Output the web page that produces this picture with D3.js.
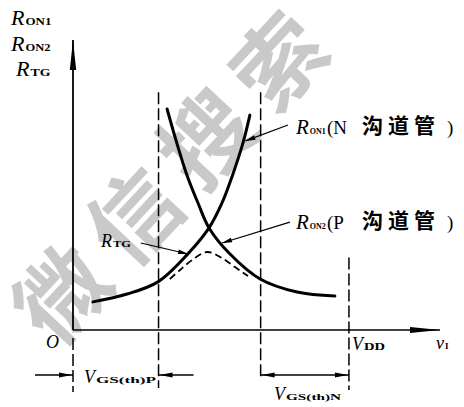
<!DOCTYPE html>
<html>
<head>
<meta charset="utf-8">
<script src="https://cdn.jsdelivr.net/npm/d3@7"></script>
<style>
  body { margin: 0; background: #fff; }
  svg { display: block; }
  .serif { font-family: "Liberation Serif", "DejaVu Serif", serif; }
  .cjk { font-family: "Noto Sans CJK SC", sans-serif; }
</style>
</head>
<body>
<script>
// Supply voltage and threshold magnitudes (same units as the v_I axis)
const VDD = 10;
const VthP = 3.1;
const VthN = 3.2;

// R_ON1 : N-channel on-resistance vs. input voltage
const ron1V = [0.72, 1.96, 3.08, 4.13, 4.93, 5.40, 5.76, 6.16, 6.41];
const ron1R = [9.7, 12.4, 16.6, 25.9, 35.2, 43.8, 52.8, 64.5, 74.1];

// R_ON2 : P-channel on-resistance vs. input voltage
const ron2V = [3.41, 3.73, 4.13, 4.53, 4.93, 5.69, 6.78, 8.12, 9.49];
const ron2R = [76.2, 65.5, 53.4, 43.8, 35.2, 26.2, 17.6, 13.1, 11.7];

// R_TG : resistance of the complete transmission gate
const rtgV = [3.51, 3.88, 4.31, 4.86, 5.40, 5.87, 6.34];
const rtgR = [17.6, 20.7, 24.1, 26.9, 24.8, 21.7, 18.6];

const W = 464, H = 407;
const svg = d3.select("body").append("svg").attr("width", W).attr("height", H);

const x = d3.scaleLinear().domain([0, 13.3]).range([73, 440]);
const y = d3.scaleLinear().domain([0, 100]).range([330, 40]);
const y0 = y(0);

// faint background watermark
svg.append("text")
  .attr("class", "cjk")
  .attr("transform", "translate(172,168) rotate(-47)")
  .attr("text-anchor", "middle")
  .attr("dominant-baseline", "central")
  .attr("font-size", 90)
  .attr("font-weight", 700)
  .attr("letter-spacing", 16)
  .attr("fill", "#c9c9c9")
  .text("微信搜索");

const ink = "#000";

// narrow filled arrowhead pointing from (x1,y1) toward (x2,y2), tip at (x2,y2)
function arrow(g, x1, y1, x2, y2, len, half) {
  const dx = x2 - x1, dy = y2 - y1, L = Math.hypot(dx, dy);
  const ux = dx / L, uy = dy / L;
  const bx = x2 - ux * len, by = y2 - uy * len;
  g.append("path")
    .attr("d", `M${x2},${y2}L${bx - uy * half},${by + ux * half}L${bx + uy * half},${by - ux * half}Z`)
    .attr("fill", ink);
}

// axes
const axes = svg.append("g");
axes.append("line").attr("x1", x(0)).attr("x2", x(0)).attr("y1", y(100)).attr("y2", y0)
  .attr("stroke", ink).attr("stroke-width", 1.8);
axes.append("line").attr("x1", x(0)).attr("x2", x(13.3)).attr("y1", y0).attr("y2", y0)
  .attr("stroke", ink).attr("stroke-width", 1.6);
arrow(axes, x(0), y0, x(0), y(100), 30, 3.2);
arrow(axes, x(0), y0, x(13.3), y0, 30, 3);

// dashed reference lines
const refs = svg.append("g").attr("stroke", ink).attr("stroke-width", 1.5)
  .attr("stroke-dasharray", "12,4").attr("fill", "none");
function dashedV(v, top, bottom) {
  refs.append("line").attr("x1", x(v)).attr("x2", x(v)).attr("y1", top).attr("y2", bottom);
}
dashedV(VthP, y(82), y0 + 58);
dashedV(VDD - VthN, y(82), y0 + 48);
dashedV(VDD, y(25), y0 + 60);
dashedV(0, y0 + 8, y0 + 62);

// curves
const line = d3.line().x(d => x(d[0])).y(d => y(d[1])).curve(d3.curveCatmullRom.alpha(0.5));
const curves = svg.append("g").attr("fill", "none").attr("stroke", ink)
  .attr("stroke-linecap", "round");
curves.append("path").datum(d3.zip(ron1V, ron1R)).attr("d", line).attr("stroke-width", 3);
curves.append("path").datum(d3.zip(ron2V, ron2R)).attr("d", line).attr("stroke-width", 3);
curves.append("path").datum(d3.zip(rtgV, rtgR)).attr("d", line)
  .attr("stroke-width", 1.8).attr("stroke-dasharray", "7,4").attr("stroke-linecap", "butt");

// leader lines from labels to curves
const leaders = svg.append("g");
function leader(v1, r1, v2, r2) {
  leaders.append("line").attr("x1", x(v1)).attr("y1", y(r1)).attr("x2", x(v2)).attr("y2", y(r2))
    .attr("stroke", ink).attr("stroke-width", 1.2);
  arrow(leaders, x(v1), y(r1), x(v2), y(r2), 10, 2.4);
}
leader(7.79, 70.7, 6.25, 65.2);
leader(7.86, 37.2, 5.40, 30.0);
leader(2.46, 30.0, 4.17, 26.2);

// threshold spans under the axis
const spans = svg.append("g");
const ya = y0 + 45;
function seg(x1, x2) {
  spans.append("line").attr("x1", x1).attr("x2", x2).attr("y1", ya).attr("y2", ya)
    .attr("stroke", ink).attr("stroke-width", 1.3);
}
seg(x(0) - 38, x(0));
arrow(spans, x(0) - 38, ya, x(0) - 1, ya, 13, 2.6);
seg(x(VthP), x(VthP) + 35);
arrow(spans, x(VthP) + 35, ya, x(VthP) + 1, ya, 13, 2.6);
seg(x(VDD - VthN), x(VDD));
arrow(spans, x(VDD), ya, x(VDD - VthN) + 1, ya, 13, 2.6);
arrow(spans, x(VDD - VthN), ya, x(VDD) - 1, ya, 13, 2.6);

// text helpers: italic symbol followed by a small, wide upright subscript
function label(px, py, sym, symSize, sub, subSize, subWidth, italic = true) {
  const t = svg.append("text").attr("class", "serif").attr("x", px).attr("y", py).attr("fill", ink);
  t.append("tspan").attr("font-style", italic ? "italic" : "normal").attr("font-size", symSize).text(sym);
  if (sub) {
    const s = t.append("tspan").attr("font-size", subSize).attr("dx", 1)
      .attr("font-weight", 700).text(sub);
    if (subWidth) s.attr("textLength", subWidth).attr("lengthAdjust", "spacingAndGlyphs");
  }
  return t;
}

// y-axis title block
label(11, 25, "R", 22, "ON1", 10, 26);
label(11, 51, "R", 22, "ON2", 10, 25);
label(16, 76, "R", 22, "TG", 10, 20);

// curve labels
function curveLabel(px, py, sub, ch) {
  label(px, py, "R", 21, sub, 9, 16);
  svg.append("text").attr("class", "serif").attr("x", px + 31).attr("y", py)
    .attr("font-size", 19).attr("fill", ink).text("(" + ch);
  svg.append("text").attr("class", "cjk").attr("x", px + 66).attr("y", py - 1)
    .attr("font-size", 21).attr("font-weight", 700).attr("letter-spacing", 5).attr("fill", ink)
    .text("沟道管");
  svg.append("text").attr("class", "serif").attr("x", px + 151).attr("y", py)
    .attr("font-size", 19).attr("fill", ink).text(")");
}
curveLabel(296, 134, "ON1", "N");
curveLabel(296, 229, "ON2", "P");
label(101, 247, "R", 18, "TG", 9, 18);

// axis annotations
svg.append("text").attr("class", "serif").attr("x", 46).attr("y", 348)
  .attr("font-size", 18).attr("font-style", "italic").attr("fill", ink).text("O");
label(352, 350, "V", 18, "DD", 10, 21);
label(436, 349, "v", 18, "I", 9, 0);
label(84, 383, "V", 18, "GS(th)P", 9, 60);
label(274, 400, "V", 18, "GS(th)N", 9, 55);
</script>
</body>
</html>
